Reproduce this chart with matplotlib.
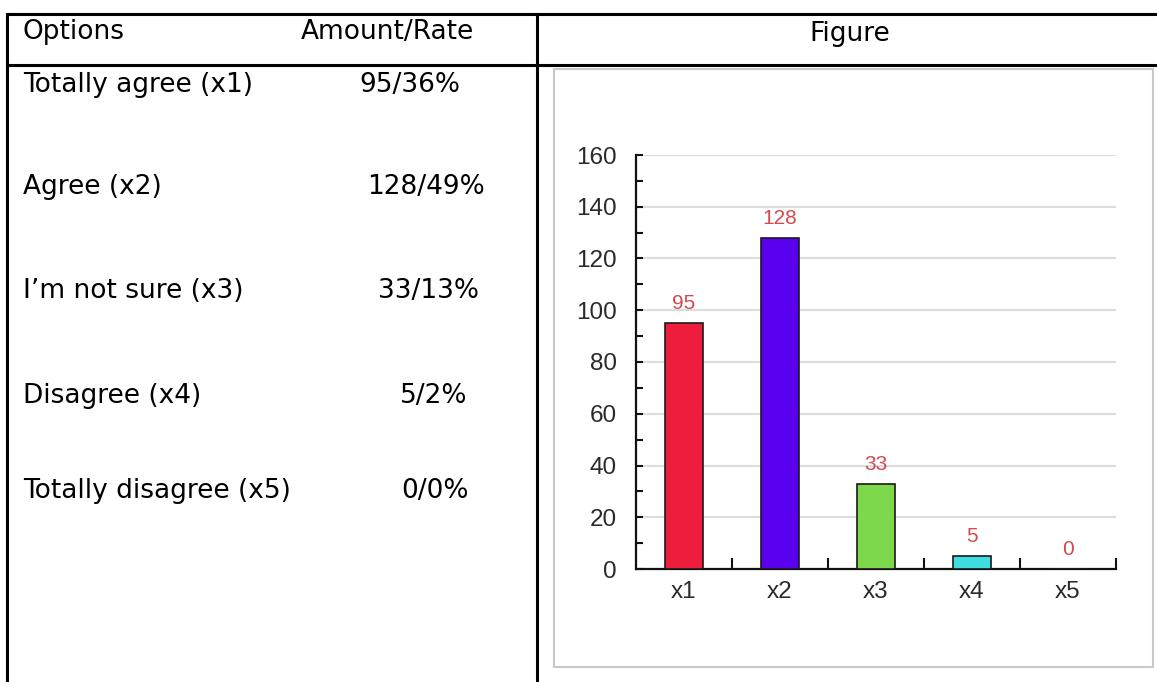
import numpy as np
import matplotlib
matplotlib.use("Agg")
import matplotlib.pyplot as plt
from matplotlib.lines import Line2D
from matplotlib.patches import Rectangle

# data
options = ['Totally agree (x1)', 'Agree (x2)', "I\u2019m not sure (x3)",
           'Disagree (x4)', 'Totally disagree (x5)']
amounts = [95, 128, 33, 5, 0]
rates = [36, 49, 13, 2, 0]
categories = ['x1', 'x2', 'x3', 'x4', 'x5']
bar_colors = ['#ee1d3e', '#5b00ee', '#7ed84c', '#3fdde2', '#ffffff']

W, H = 1157, 682
fig = plt.figure(figsize=(W / 100, H / 100), dpi=100)

# helpers: pixel coords -> figure fraction
def px(x):
  return x / W

def py(y):
  return 1 - y / H

# table lines
lw_tab = 2.2
fig.add_artist(Line2D([px(7), px(1157)], [py(14), py(14)], color='black', lw=lw_tab))
fig.add_artist(Line2D([px(7), px(1157)], [py(65), py(65)], color='black', lw=lw_tab))
fig.add_artist(Line2D([px(7), px(7)], [py(14), py(682)], color='black', lw=lw_tab))
fig.add_artist(Line2D([px(537), px(537)], [py(14), py(682)], color='black', lw=lw_tab))

# table text
fs = 19
fig.text(px(23), py(39), 'Options', fontsize=fs, va='baseline', ha='left')
fig.text(px(387), py(39), 'Amount/Rate', fontsize=fs, va='baseline', ha='center')
fig.text(px(850), py(41), 'Figure', fontsize=fs, va='baseline', ha='center')

row_y = [92, 194, 298, 403, 498]
amt_x = [410, 426, 428, 434, 435]
for i in range(len(options)):
  fig.text(px(23), py(row_y[i]), options[i], fontsize=fs, va='baseline', ha='left')
  fig.text(px(amt_x[i]), py(row_y[i]), '{}/{}%'.format(amounts[i], rates[i]),
           fontsize=fs, va='baseline', ha='center')

# grey frame around the chart picture
fig.add_artist(Rectangle((px(554), py(667)), px(1153) - px(554), py(69) - py(667),
                         fill=False, edgecolor='#c9c9c9', lw=1.5))

# bar chart
ax = fig.add_axes([px(636), py(569), px(1116) - px(636), py(155) - py(569)])
x = np.arange(len(categories))
bars = ax.bar(x, amounts, width=0.4, color=bar_colors, edgecolor='#1a1a1a', lw=1.2, zorder=3)

for i in range(len(amounts)):
  ax.annotate(str(amounts[i]), (x[i], amounts[i]), xytext=(0, 7), textcoords='offset points',
              ha='center', va='bottom', fontsize=15, color='#d24a4f', family='Liberation Sans')

ax.set_xlim(-0.5, len(categories) - 0.5)
ax.set_ylim(0, 160)
ax.set_yticks(np.arange(0, 161, 20))
ax.set_yticks(np.arange(10, 160, 20), minor=True)
ax.set_xticks(x)
ax.set_xticklabels(categories)
ax.set_xticks(np.arange(0.5, len(categories), 1), minor=True)

ax.grid(axis='y', which='major', color='#dcdcdc', lw=1.5, zorder=0)
ax.set_axisbelow(True)

for s in ['top', 'right']:
  ax.spines[s].set_visible(False)
for s in ['left', 'bottom']:
  ax.spines[s].set_linewidth(1.6)
  ax.spines[s].set_color('#111111')

ax.tick_params(axis='y', which='both', direction='in', length=5, width=1.5, color='#111111')
ax.tick_params(axis='y', which='major', pad=14, labelsize=17.5, labelcolor='#2a2a2a')
ax.tick_params(axis='x', which='major', length=0, pad=9, labelsize=17.5, labelcolor='#2a2a2a')
ax.tick_params(axis='x', which='minor', direction='in', length=8, width=1.5, color='#111111')
for lab in ax.get_xticklabels() + ax.get_yticklabels():
  lab.set_family('Liberation Sans')

plt.savefig('out.png', dpi=100)
